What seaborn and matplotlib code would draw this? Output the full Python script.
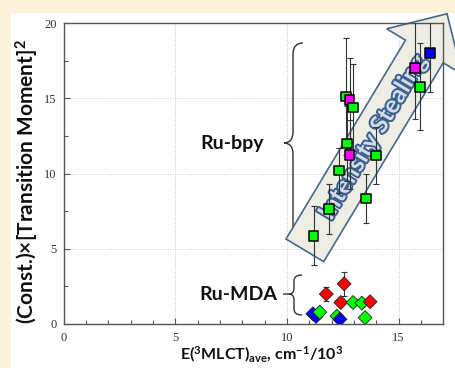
import numpy as np
import pandas as pd
import matplotlib
matplotlib.use("Agg")
import matplotlib.pyplot as plt
import seaborn as sns
from matplotlib.patches import Rectangle, Polygon, PathPatch
from matplotlib.path import Path
import matplotlib.patheffects as pe

# Ru-bpy complexes: average 3MLCT energy (10^3 cm-1) vs (const.) x [transition moment]^2
bpy_energy = [11.19, 11.87, 12.33, 12.67, 12.80, 13.53, 13.97, 12.64, 12.80, 12.96, 15.75, 15.96, 16.39]
bpy_moment = [5.87, 7.64, 10.20, 11.99, 11.24, 8.34, 11.20, 15.12, 14.90, 14.39, 17.00, 15.76, 18.03]
bpy_error = [1.95, 1.65, 1.50, 2.50, 2.30, 1.60, 1.90, 3.90, 2.80, 2.90, 3.40, 2.90, 2.60]
bpy_color = ["green", "green", "green", "green", "magenta", "green", "green",
             "green", "magenta", "green", "magenta", "green", "blue"]

# Ru-MDA complexes
mda_energy = [11.16, 11.30, 11.47, 12.24, 12.37, 11.76, 12.56, 12.41, 12.96, 13.35, 13.72, 13.50]
mda_moment = [0.68, 0.50, 0.79, 0.52, 0.31, 1.99, 2.67, 1.43, 1.43, 1.39, 1.48, 0.42]
mda_error = [0.10, 0.10, 0.10, 0.10, 0.15, 0.45, 0.80, 0.15, 0.25, 0.25, 0.25, 0.20]
mda_color = ["blue", "blue", "green", "green", "blue", "red", "red", "red",
             "green", "green", "red", "green"]

x_ticks = [0, 5, 10, 15]
y_ticks = [0, 5, 10, 15, 20]

palette = {"green": "#00FF00", "magenta": "#FF00FF", "blue": "#0000FF", "red": "#FF0000"}

bpy = pd.DataFrame({"E": bpy_energy, "M": bpy_moment, "err": bpy_error, "c": bpy_color})
mda = pd.DataFrame({"E": mda_energy, "M": mda_moment, "err": mda_error, "c": mda_color})

sns.set_style("ticks")
plt.rcParams["font.family"] = ["Lato", "DejaVu Sans"]
plt.rcParams["mathtext.default"] = "regular"

W, H = 455, 368
fig = plt.figure(figsize=(W / 100, H / 100), dpi=100)
fig.patch.set_facecolor("#FCF3DA")
fig.add_artist(Rectangle((11 / W, 0), 1, 1 - 13 / H, transform=fig.transFigure,
                         facecolor="white", edgecolor="none", zorder=-10))

AX_L, AX_R, AX_T, AX_B = 63.7, 443.3, 23.0, 324.0
ax = fig.add_axes([AX_L / W, 1 - AX_B / H, (AX_R - AX_L) / W, (AX_B - AX_T) / H])
ax.set_facecolor("white")


def fx(x, y):
    return (x / W, 1 - y / H)


# "Intensity Stealing" arrow drawn in pixel space then mapped to figure fraction
ang = np.deg2rad(59)
u = np.array([np.cos(ang), -np.sin(ang)])
n = np.array([np.sin(ang), np.cos(ang)])
p0 = np.array([286.0, 239.0])
wid, shaft, wing, tip = 44.0, 232.0, 22.0, 276.0
un = [(0, 0), (shaft, 0), (shaft, -wing), (tip, wid / 2), (shaft, wid + wing),
      (shaft, wid), (0, wid)]
verts = [fx(*(p0 + a * u + b * n)) for a, b in un]
ax.add_patch(Polygon(verts, closed=True, transform=fig.transFigure, clip_on=False,
                     facecolor="#EEEDE4", edgecolor="#46688F", linewidth=1.2, zorder=1.5))
tc = p0 + 132 * u + 22 * n
ax.text(*fx(*tc), "Intensity Stealing", transform=fig.transFigure, rotation=59,
        rotation_mode="anchor", ha="center", va="center", fontsize=17.5,
        fontweight="bold", color="#D3DCE8", zorder=1.6,
        path_effects=[pe.withStroke(linewidth=2.8, foreground="#3C6090")])


def brace(x_tip, y_tip, x_stem, x_end, y_top, y_bot, r, x_lead=None):
    pts = [(x_end, y_top), (x_stem, y_top), (x_stem, y_top + r),
           (x_stem, y_tip - r), (x_stem, y_tip), (x_tip, y_tip),
           (x_stem, y_tip), (x_stem, y_tip + r),
           (x_stem, y_bot - r), (x_stem, y_bot), (x_end, y_bot)]
    codes = [Path.MOVETO, Path.CURVE3, Path.CURVE3, Path.LINETO, Path.CURVE3,
             Path.CURVE3, Path.CURVE3, Path.CURVE3, Path.LINETO, Path.CURVE3,
             Path.CURVE3]
    if x_lead is not None:
        pts += [(x_lead, y_tip), (x_tip, y_tip)]
        codes += [Path.MOVETO, Path.LINETO]
    path = Path([fx(*p) for p in pts], codes)
    ax.add_patch(PathPatch(path, transform=fig.transFigure, clip_on=False,
                           facecolor="none", edgecolor="#333333", linewidth=1.0,
                           zorder=1.4))


brace(284, 143, 293, 303, 43, 240, 11)
brace(289, 294, 294, 302, 275, 315, 6, x_lead=283)

ax.text(*fx(232, 143), "Ru-bpy", transform=fig.transFigure, ha="center",
        va="center", fontsize=14, fontweight="bold", color="#111111")
ax.text(*fx(238, 295), "Ru-MDA", transform=fig.transFigure, ha="center",
        va="center", fontsize=14, fontweight="bold", color="#111111")

# Error bars under the markers
for df in (bpy, mda):
    ax.errorbar(df["E"], df["M"], yerr=df["err"], fmt="none", ecolor="#333333",
                elinewidth=0.8, capsize=2.5, capthick=0.8, zorder=2.6)

sns.scatterplot(data=bpy, x="E", y="M", hue="c", palette=palette, marker="s", s=50,
                edgecolor="black", linewidth=1.1, legend=False, ax=ax, zorder=3)
sns.scatterplot(data=mda, x="E", y="M", hue="c", palette=palette, marker="D", s=50,
                edgecolor="#222222", linewidth=0.6, legend=False, ax=ax, zorder=3)

ax.set_xlim(0, 17)
ax.set_ylim(0, 20)
ax.set_xticks(x_ticks)
ax.set_yticks(y_ticks)
ax.set_xticks(np.arange(0, 17, 1), minor=True)
ax.set_yticks(np.arange(0, 20.1, 2.5), minor=True)
ax.grid(True, which="major", linestyle=":", linewidth=0.7, color="#C8C8C8")
ax.set_axisbelow(True)
ax.tick_params(which="both", direction="in", colors="#555555", labelcolor="#333333",
               labelsize=9, top=False, right=False)
ax.tick_params(which="major", length=4, width=0.8)
ax.tick_params(which="minor", length=3, width=0.8)
ax.tick_params(axis="x", pad=6)
ax.tick_params(axis="y", pad=5)
for lab in ax.get_xticklabels() + ax.get_yticklabels():
    lab.set_fontfamily("Liberation Serif")
for sp in ax.spines.values():
    sp.set_visible(True)
    sp.set_color("#555555")
    sp.set_linewidth(1.0)

ax.set_xlabel(r"E($^3$MLCT)$_{ave}$, cm$^{-1}$/10$^3$", fontsize=11.5,
              fontweight="bold", color="#111111")
ax.set_ylabel(r"(Const.)×[Transition Moment]$^2$", fontsize=15,
              fontweight="bold", color="#111111")
ax.xaxis.set_label_coords((262 - AX_L) / (AX_R - AX_L), (AX_B - 344) / (AX_B - AX_T))
ax.yaxis.set_label_coords((AX_L - 41) / -(AX_R - AX_L), (AX_B - 181.5) / (AX_B - AX_T))

fig.savefig("out.png", dpi=100, facecolor=fig.get_facecolor())
